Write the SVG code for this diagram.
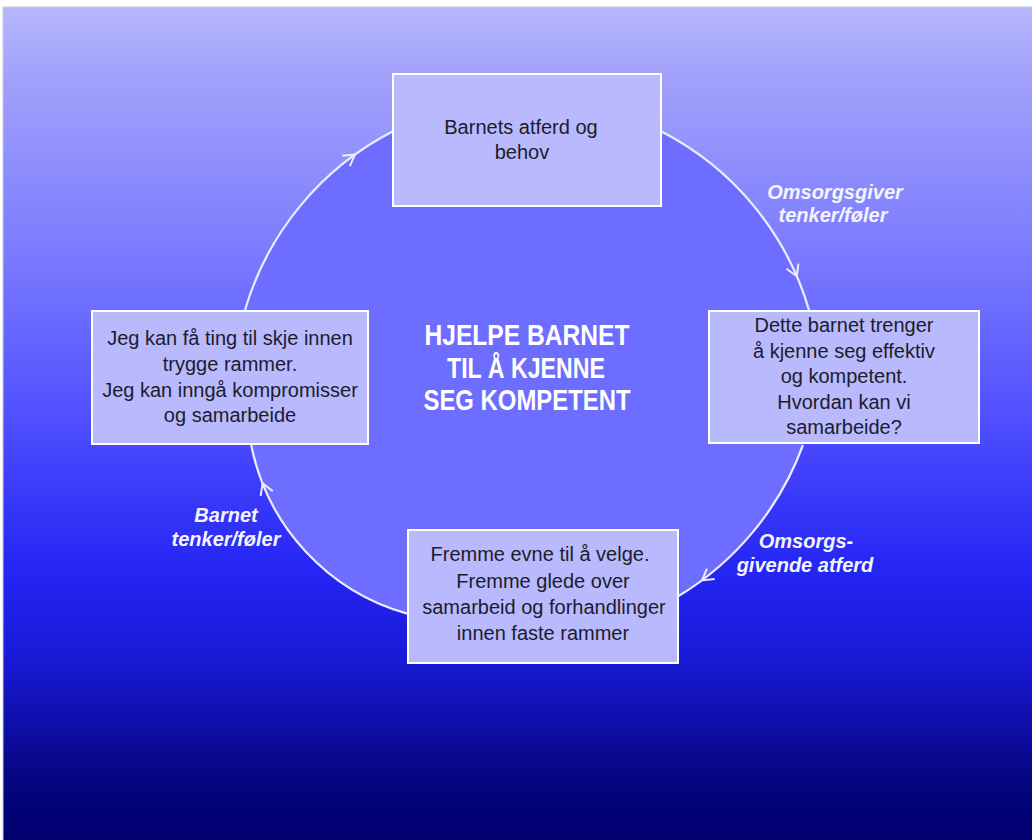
<svg xmlns="http://www.w3.org/2000/svg" width="1032" height="840" viewBox="0 0 1032 840">
  <defs>
    <linearGradient id="bg" x1="0" y1="7" x2="0" y2="840" gradientUnits="userSpaceOnUse">
      <stop offset="0" stop-color="#B6B6FD"/>
      <stop offset="0.09" stop-color="#A0A0FB"/>
      <stop offset="0.3" stop-color="#7A7AFF"/>
      <stop offset="0.5" stop-color="#4E4EFF"/>
      <stop offset="0.68" stop-color="#2424F4"/>
      <stop offset="0.78" stop-color="#1A1AD8"/>
      <stop offset="0.85" stop-color="#1010B0"/>
      <stop offset="0.93" stop-color="#05057E"/>
      <stop offset="1" stop-color="#000070"/>
    </linearGradient>
    <path id="chev" d="M -11,-6.5 L 0,0 L -11,6.5"/>
    <style>
      .box { fill: #B9B9FE; stroke: #FFFFFF; stroke-width: 2; }
      .arc { fill: none; stroke: #ECECFF; stroke-width: 2.2; }
      .head { fill: none; stroke: #ECECFF; stroke-width: 2; stroke-linejoin: miter; }
      .txt { font-family: "Liberation Sans", Arial, sans-serif; font-size: 20px; fill: #1C1C2C; text-anchor: middle; }
      .lbl { font-family: "Liberation Sans", Arial, sans-serif; font-size: 20px; font-style: italic; font-weight: bold; fill: #F4F4FF; text-anchor: middle; }
      .title { font-family: "Liberation Sans", Arial, sans-serif; font-size: 30px; font-weight: bold; fill: #FFFFFF; text-anchor: middle; }
    </style>
  </defs>

  <!-- page and backdrop -->
  <rect x="0" y="0" width="1032" height="840" fill="#FFFFFF"/>
  <rect x="3" y="7" width="1030" height="834" fill="url(#bg)" stroke="#C8C8DC" stroke-width="1"/>

  <!-- flat fill of the cycle interior -->
  <path id="cycle-fill" fill="#6D6DFF" d="M 393,131.3 L 661,131.3 A 294 294 0 0 1 809.3,311 L 803,445 A 296 296 0 0 1 678,596.4 L 408,613.9 A 220 220 0 0 1 251,444 L 244.7,311 A 294 294 0 0 1 393,131.3 Z"/>

  <!-- connectors -->
  <g id="connectors">
    <path class="arc" d="M 661,131.3 A 294 294 0 0 1 809.3,311"/>
    <path class="arc" d="M 803,445 A 296 296 0 0 1 678,596.4"/>
    <path class="arc" d="M 408,613.9 A 220 220 0 0 1 251,444"/>
    <path class="arc" d="M 244.7,311 A 294 294 0 0 1 393,131.3"/>
    <use href="#chev" class="head" transform="translate(796.8,276.2) rotate(66.6)"/>
    <use href="#chev" class="head" transform="translate(702,580.4) rotate(143.3)"/>
    <use href="#chev" class="head" transform="translate(262.6,483.3) rotate(-111.7)"/>
    <use href="#chev" class="head" transform="translate(355,154.5) rotate(-35.8)"/>
  </g>

  <!-- connector labels -->
  <g id="label-top-right">
    <text class="lbl" x="835" y="199">Omsorgsgiver</text>
    <text class="lbl" x="833" y="222">tenker/føler</text>
  </g>
  <g id="label-bottom-right">
    <text class="lbl" x="806" y="548">Omsorgs-</text>
    <text class="lbl" x="805" y="572">givende atferd</text>
  </g>
  <g id="label-bottom-left">
    <text class="lbl" x="226" y="522">Barnet</text>
    <text class="lbl" x="226" y="546">tenker/føler</text>
  </g>

  <!-- centre title -->
  <g id="title">
    <text class="title" x="527" y="345" textLength="205" lengthAdjust="spacingAndGlyphs">HJELPE  BARNET</text>
    <text class="title" x="526" y="378" textLength="158" lengthAdjust="spacingAndGlyphs">TIL Å KJENNE</text>
    <text class="title" x="527" y="410" textLength="207" lengthAdjust="spacingAndGlyphs">SEG  KOMPETENT</text>
  </g>

  <!-- nodes -->
  <g id="node-top">
    <rect class="box" x="393" y="74" width="268" height="132"/>
    <text class="txt" x="521" y="134">Barnets atferd og</text>
    <text class="txt" x="522" y="159">behov</text>
  </g>
  <g id="node-right">
    <rect class="box" x="709" y="311" width="270" height="132"/>
    <text class="txt" x="844" y="332">Dette barnet trenger</text>
    <text class="txt" x="844" y="357.5">å kjenne seg effektiv</text>
    <text class="txt" x="844" y="383">og kompetent.</text>
    <text class="txt" x="844" y="408.5">Hvordan kan vi</text>
    <text class="txt" x="844" y="434">samarbeide?</text>
  </g>
  <g id="node-bottom">
    <rect class="box" x="408" y="530" width="270" height="133"/>
    <text class="txt" x="540" y="561">Fremme evne til å velge.</text>
    <text class="txt" x="543" y="587.5">Fremme glede over</text>
    <text class="txt" x="544" y="614">samarbeid og forhandlinger</text>
    <text class="txt" x="543" y="640">innen faste rammer</text>
  </g>
  <g id="node-left">
    <rect class="box" x="92" y="311" width="276" height="133"/>
    <text class="txt" x="230" y="345">Jeg kan få ting til skje innen</text>
    <text class="txt" x="230" y="371">trygge rammer.</text>
    <text class="txt" x="230" y="396.5">Jeg kan inngå kompromisser</text>
    <text class="txt" x="230" y="422">og samarbeide</text>
  </g>
</svg>
